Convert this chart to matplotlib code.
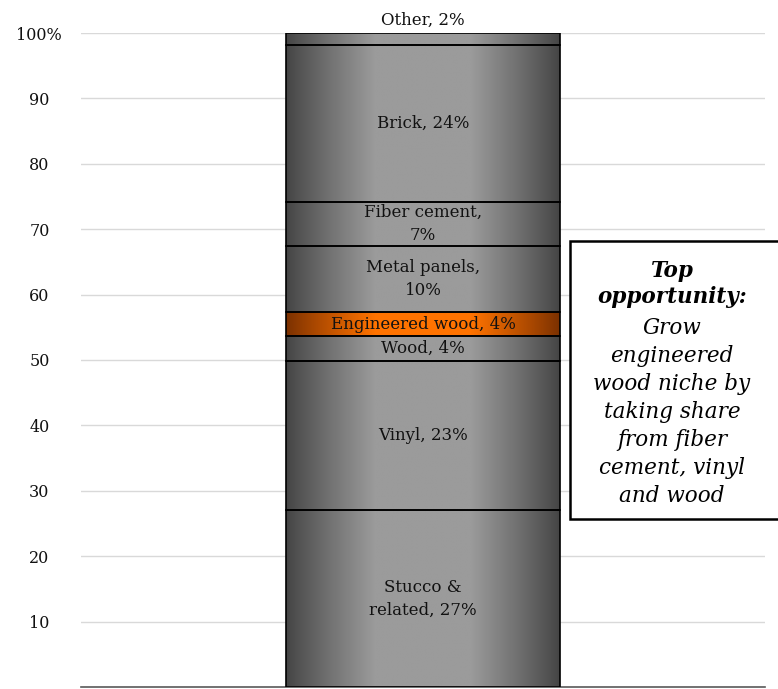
import numpy as np
import matplotlib as mpl
mpl.use('Agg')
import matplotlib.pyplot as plt
from matplotlib.patches import Rectangle

# segments from bottom to top (share of siding, %)
segments = ["Stucco & related", "Vinyl", "Wood", "Engineered wood",
            "Metal panels", "Fiber cement", "Brick", "Other"]
shares = [27.0, 22.9, 3.7, 3.7, 10.2, 6.7, 24.0, 1.8]
labels = ["Stucco &\nrelated, 27%", "Vinyl, 23%", "Wood, 4%", "Engineered wood, 4%",
          "Metal panels,\n10%", "Fiber cement,\n7%", "Brick, 24%", "Other, 2%"]
highlight = "Engineered wood"
yticks = [10, 20, 30, 40, 50, 60, 70, 80, 90, 100]
yticklabels = ["10", "20", "30", "40", "50", "60", "70", "80", "90", "100%"]
note_title = "Top\nopportunity:"
note_body = "Grow\nengineered\nwood niche by\ntaking share\nfrom fiber\ncement, vinyl\nand wood"

plt.rcParams['font.family'] = ['DejaVu Serif']

fig = plt.figure(figsize=(7.78, 6.89), dpi=100)
ax = fig.add_axes([81/778, 2/689, 684/778, 654/689])

# horizontal gradient: dark edges, light middle
t = np.linspace(0, 1, 256)
prof = np.clip(1 - np.abs(t - 0.5) / 0.5, 0, 1)
prof = np.clip(prof / 0.65, 0, 1) ** 0.9

def grad_img(c_edge, c_mid):
    c_edge = np.array(mpl.colors.to_rgb(c_edge))
    c_mid = np.array(mpl.colors.to_rgb(c_mid))
    return (c_edge[None, :] + (c_mid - c_edge)[None, :] * prof[:, None])[None, :, :]

grey = grad_img("#444444", "#9b9b9b")
orange = grad_img("#7a3000", "#ff7300")

width = 0.4
x0, x1 = -width / 2, width / 2
bottoms = np.concatenate([[0], np.cumsum(shares)[:-1]])
for name, s, b, lab in zip(segments, shares, bottoms, labels):
    img = orange if name == highlight else grey
    ax.imshow(img, extent=[x0, x1, b, b + s], aspect='auto', zorder=2, interpolation='bilinear')
    ax.bar(0, s, bottom=b, width=width, facecolor='none', edgecolor='black', linewidth=1.2, zorder=3)
    if name == "Other":
        ax.text(0, b + s + 0.6, lab, ha='center', va='bottom', fontsize=12,
                color='#111111', zorder=4)
    else:
        ax.text(0, b + s / 2, lab, ha='center', va='center', fontsize=12,
                color='#111111', linespacing=1.45, zorder=4)

ax.set_xlim(-0.5, 0.5)
ax.set_ylim(0, 100)
ax.set_yticks(yticks)
ax.set_yticklabels(yticklabels, fontsize=11.5, ha='center', color='#111111')
ax.set_xticks([])
ax.tick_params(axis='y', length=0, pad=30)
ax.yaxis.grid(True, color='#d9d9d9', linewidth=1)
ax.set_axisbelow(True)
for sp in ['top', 'right', 'left']:
    ax.spines[sp].set_visible(False)
ax.spines['bottom'].set_color('#595959')
ax.spines['bottom'].set_linewidth(1.2)

# note box running off the right edge
fig.patches.append(Rectangle((570/778, (689-519)/689), 220/778, 278/689,
                             transform=fig.transFigure, facecolor='white',
                             edgecolor='black', linewidth=1.8, zorder=5))
fig.text(672/778, (689-284)/689, note_title, ha='center', va='center', fontsize=15.5,
         fontweight='bold', style='italic', linespacing=1.25, zorder=6)
fig.text(672/778, (689-412)/689, note_body, ha='center', va='center', fontsize=15.5,
         style='italic', linespacing=1.36, zorder=6)

fig.savefig('out.png', dpi=100)
